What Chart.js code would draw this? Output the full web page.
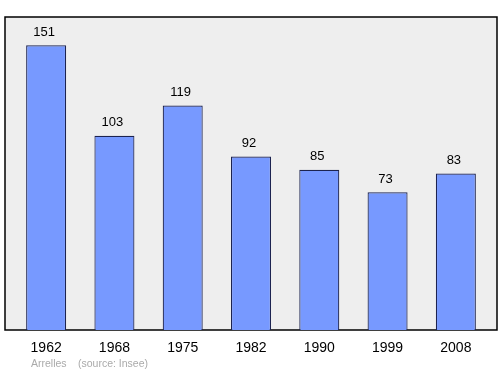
<!DOCTYPE html>
<html>
<head>
<meta charset="utf-8">
<script src="https://cdn.jsdelivr.net/npm/chart.js@4/dist/chart.umd.min.js"></script>
<style>
  html, body { margin: 0; padding: 0; background: #fff; }
  #wrap { width: 500px; height: 374px; position: relative; }
</style>
</head>
<body>
<div id="wrap"><canvas id="popChart"></canvas></div>
<script>
// population by census year
const years = ['1962', '1968', '1975', '1982', '1990', '1999', '2008'];
const population = [151, 103, 119, 92, 85, 73, 83];
const commune = 'Arrelles';
const source = '(source: Insee)';

// grey panel with black frame behind the bars
const framePlugin = {
    id: 'frame',
    beforeDraw(chart) {
        const ctx = chart.ctx;
        const a = chart.chartArea;
        ctx.save();
        ctx.fillStyle = '#eeeeee';
        ctx.strokeStyle = '#000';
        ctx.lineWidth = 1.5;
        ctx.beginPath();
        ctx.rect(a.left - 7, a.top, (a.right - a.left) + 14, a.bottom - a.top);
        ctx.fill();
        ctx.stroke();
        ctx.restore();
    },
    afterDraw(chart) {
        const ctx = chart.ctx;
        ctx.save();
        ctx.fillStyle = '#aaaaaa';
        ctx.font = '10.5px "Liberation Sans", Arial, sans-serif';
        ctx.textBaseline = 'middle';
        ctx.fillText(commune, 31, 364);
        ctx.fillText(source, 78, 364);
        ctx.restore();
    }
};

// value above each bar
const valuePlugin = {
    id: 'values',
    afterDatasetsDraw(chart) {
        const ctx = chart.ctx;
        const meta = chart.getDatasetMeta(0);
        ctx.save();
        ctx.fillStyle = '#000';
        ctx.font = '13px "Liberation Sans", Arial, sans-serif';
        ctx.textAlign = 'center';
        ctx.textBaseline = 'middle';
        meta.data.forEach((bar, i) => {
            ctx.fillText(String(population[i]), bar.x - 2, bar.y - 13);
        });
        ctx.restore();
    }
};

new Chart(document.getElementById('popChart').getContext('2d'), {
    type: 'bar',
    data: {
        labels: years,
        datasets: [{
            data: population,
            backgroundColor: '#7799ff',
            borderColor: '#1c2350',
            borderWidth: 1.2,
            barPercentage: 0.586,
            categoryPercentage: 1
        }]
    },
    options: {
        responsive: true,
        maintainAspectRatio: false,
        animation: false,
        layout: { padding: { left: 12, right: 10, top: 17, bottom: 0 } },
        plugins: { legend: { display: false }, tooltip: { enabled: false } },
        scales: {
            y: { display: false, min: 0, max: 166 },
            x: {
                grid: { display: false, drawTicks: false },
                border: { display: false },
                ticks: {
                    color: '#000',
                    padding: 10,
                    font: { size: 14, family: '"Liberation Sans", Arial, sans-serif' }
                },
                afterFit(s) { s.height = 44; }
            }
        }
    },
    plugins: [framePlugin, valuePlugin]
});
</script>
</body>
</html>
